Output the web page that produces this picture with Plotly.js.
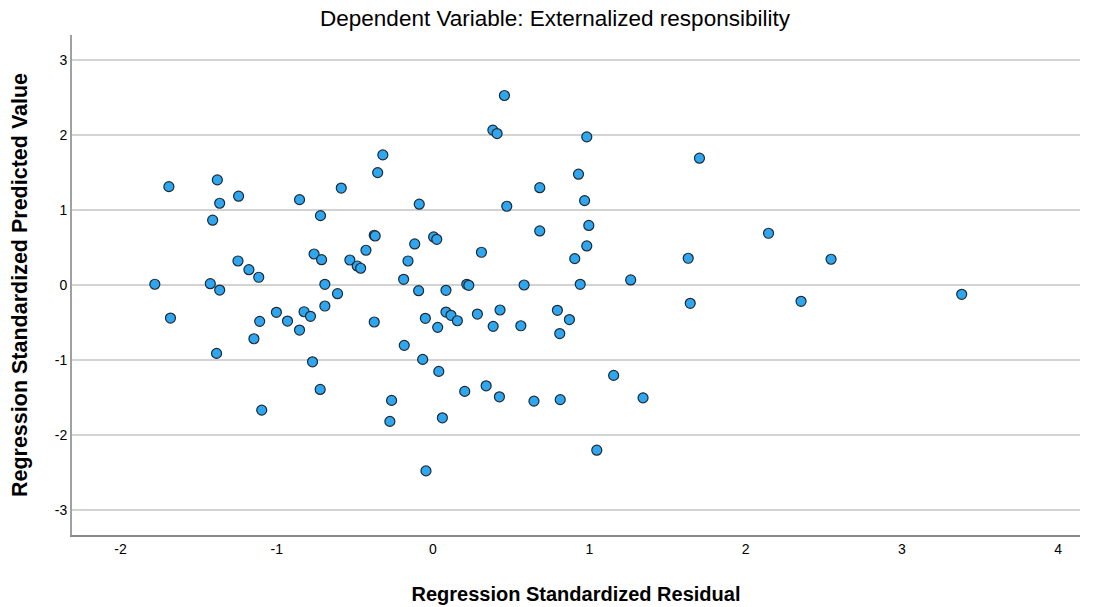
<!DOCTYPE html>
<html>
<head>
<meta charset="utf-8">
<script src="https://cdn.plot.ly/plotly-3.0.1.min.js"></script>
<style>
  html, body { margin: 0; padding: 0; background: #ffffff; }
  #chart { width: 1099px; height: 607px; }
</style>
</head>
<body>
<div id="chart"></div>
<script>
// Regression standardized residuals vs. standardized predicted values
const residual = [
  -1.78, -1.69, -1.68, -1.38, -1.365, -1.41, -1.425, -1.365, -1.385, -1.244,
  -1.248, -1.178, -1.115, -1.146, -1.109, -1.096, -1.002, -0.931, -0.854, -0.854,
  -0.825, -0.784, -0.771, -0.761, -0.713, -0.722, -0.720, -0.692, -0.692, -0.611,
  -0.587, -0.532, -0.485, -0.463, -0.429, -0.376, -0.370, -0.376, -0.354, -0.321,
  -0.276, -0.265, -0.188, -0.184, -0.160, -0.117, -0.088, -0.092, -0.066, -0.049,
  -0.045, 0.004, 0.024, 0.030, 0.037, 0.060, 0.083, 0.083, 0.115, 0.156,
  0.203, 0.216, 0.229, 0.284, 0.310, 0.340, 0.383, 0.410, 0.385, 0.425,
  0.429, 0.457, 0.472, 0.562, 0.583, 0.646, 0.683, 0.683, 0.796, 0.811,
  0.814, 0.873, 0.907, 0.931, 0.942, 0.970, 0.984, 0.984, 0.997, 1.048,
  1.156, 1.265, 1.344, 1.633, 1.646, 1.705, 2.147, 2.355, 2.547, 3.383
];
const predicted = [
  0.01, 1.31, -0.44, 1.40, 1.089, 0.863, 0.017, -0.067, -0.911, 1.183,
  0.32, 0.204, 0.103, -0.716, -0.484, -1.667, -0.364, -0.48, 1.137, -0.60,
  -0.356, -0.417, -1.023, 0.413, 0.337, -1.391, 0.924, 0.009, -0.28, -0.116,
  1.291, 0.333, 0.253, 0.223, 0.463, 0.663, 0.653, -0.493, 1.497, 1.733,
  -1.817, -1.537, 0.076, -0.804, 0.32, 0.547, 1.076, -0.076, -0.991, -0.444,
  -2.476, 0.64, 0.609, -0.564, -1.151, -1.769, -0.071, -0.36, -0.404, -0.476,
  -1.417, 0.009, -0.004, -0.387, 0.436, -1.343, 2.063, 2.017, -0.551, -1.489,
  -0.333, 2.524, 1.049, -0.543, 0.0, -1.547, 1.296, 0.72, -0.337, -0.647,
  -1.527, -0.46, 0.351, 1.476, 0.009, 1.124, 1.973, 0.52, 0.793, -2.2,
  -1.204, 0.067, -1.503, 0.356, -0.244, 1.689, 0.689, -0.217, 0.343, -0.124
];
const xTicks = [-2, -1, 0, 1, 2, 3, 4];
const yTicks = [-3, -2, -1, 0, 1, 2, 3];

const trace = {
  type: 'scatter',
  mode: 'markers',
  x: residual,
  y: predicted,
  marker: {
    size: 10,
    color: '#2ea6f0',
    line: { color: '#1f2a33', width: 1.2 }
  },
  hoverinfo: 'x+y'
};

const layout = {
  width: 1099,
  height: 607,
  paper_bgcolor: '#ffffff',
  plot_bgcolor: '#ffffff',
  margin: { l: 72, r: 19, t: 35, b: 72 },
  showlegend: false,
  font: { family: 'Liberation Sans, Arial, sans-serif', color: '#000000' },
  title: {
    text: 'Dependent Variable: Externalized responsibility',
    font: { family: 'Liberation Sans, Arial, sans-serif', size: 22.5, color: '#000000' },
    x: 0.505,
    xanchor: 'center',
    y: 0.97,
    yanchor: 'middle'
  },
  xaxis: {
    range: [-2.31, 4.14],
    tickvals: xTicks,
    ticktext: xTicks.map(String),
    showgrid: false,
    zeroline: false,
    showline: true,
    linecolor: '#8a8a8a',
    linewidth: 2,
    ticks: '',
    tickfont: { size: 14, color: '#000000' },
    automargin: false,
    title: {
      text: '<b>Regression Standardized Residual</b>',
      font: { size: 20, color: '#000000' },
      standoff: 31
    }
  },
  yaxis: {
    range: [-3.33, 3.33],
    tickvals: yTicks,
    ticktext: yTicks.map(String),
    showgrid: true,
    gridcolor: '#d3d3d3',
    gridwidth: 2,
    zeroline: false,
    showline: true,
    linecolor: '#a0a0a0',
    linewidth: 2,
    ticks: '',
    tickfont: { size: 14, color: '#000000' },
    automargin: false,
    title: {
      text: '<b>Regression Standardized Predicted Value</b>',
      font: { size: 21.5, color: '#000000' },
      standoff: 21
    }
  }
};

Plotly.newPlot('chart', [trace], layout, { displayModeBar: false, staticPlot: true });
</script>
</body>
</html>
